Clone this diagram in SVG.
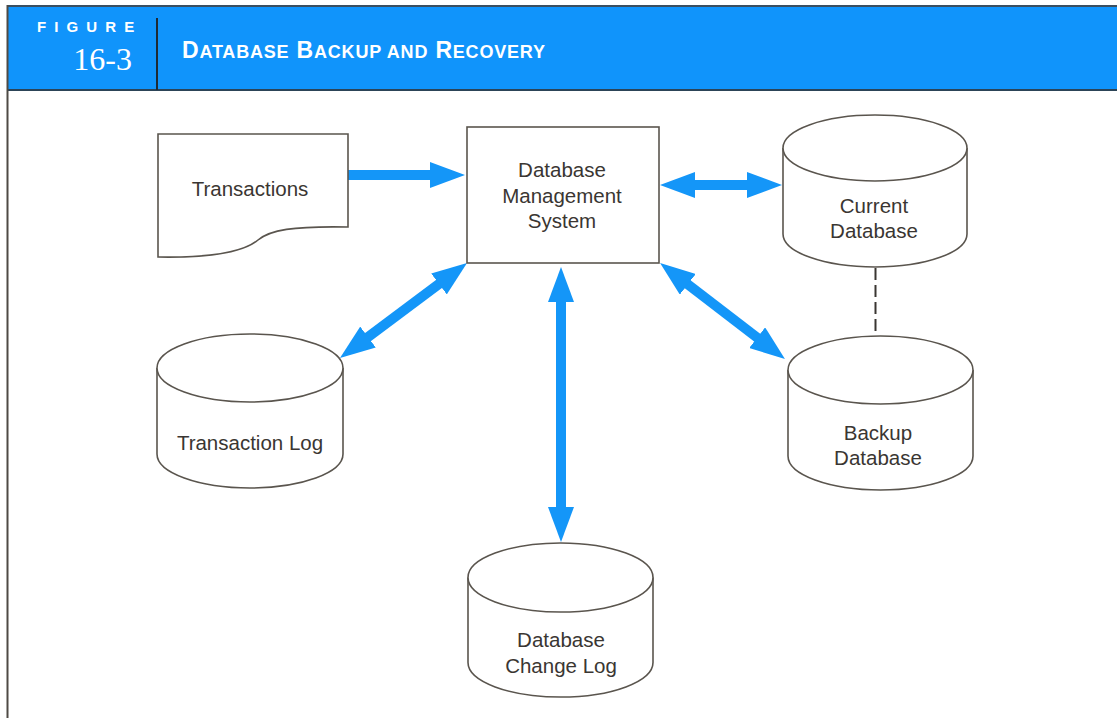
<svg xmlns="http://www.w3.org/2000/svg" width="1117" height="718" viewBox="0 0 1117 718">
  <style>
    .shape { fill: #ffffff; stroke: #5a554e; stroke-width: 1.6; }
    .label { font-family: "Liberation Sans", Arial, sans-serif; font-size: 20.5px; fill: #3a3632; text-anchor: middle; }
    .flow { stroke: #1496f8; stroke-width: 10; fill: none; }
    .hdr { fill: #ffffff; font-family: "Liberation Sans", Arial, sans-serif; font-weight: bold; }
  </style>
  <defs>
    <marker id="head" viewBox="0 0 35 26" refX="2" refY="13" markerWidth="35" markerHeight="26" markerUnits="userSpaceOnUse" orient="auto-start-reverse">
      <path d="M0,0 L35,13 L0,26 Z" fill="#1496f8"/>
    </marker>
  </defs>

  <rect x="0" y="0" width="1117" height="718" fill="#ffffff"/>

  <!-- title band -->
  <g id="header">
    <rect x="7" y="6" width="1110" height="84" fill="#1094fb"/>
    <line x1="7" y1="6" x2="1117" y2="6" stroke="#3a4f60" stroke-width="2"/>
    <line x1="7" y1="90" x2="1117" y2="90" stroke="#2c4457" stroke-width="2"/>
    <line x1="7.5" y1="5" x2="7.5" y2="718" stroke="#4e4a45" stroke-width="2"/>
    <line x1="157" y1="18" x2="157" y2="90" stroke="#1e2a33" stroke-width="2"/>
    <text class="hdr" x="37" y="32" font-size="15" letter-spacing="8.1">FIGURE</text>
    <text x="132" y="70" font-family="'Liberation Serif', 'Times New Roman', serif" font-size="32" fill="#ffffff" text-anchor="end">16-3</text>
    <text class="hdr" x="182" y="58" font-size="23" textLength="363" lengthAdjust="spacing">D<tspan font-size="18">ATABASE</tspan> B<tspan font-size="18">ACKUP AND</tspan> R<tspan font-size="18">ECOVERY</tspan></text>
  </g>

  <!-- connectors -->
  <g id="connectors">
    <line class="flow" x1="348" y1="175" x2="432" y2="175" marker-end="url(#head)"/>
    <line class="flow" x1="693" y1="185" x2="749" y2="185" marker-start="url(#head)" marker-end="url(#head)"/>
    <line class="flow" x1="561" y1="300" x2="561" y2="509" marker-start="url(#head)" marker-end="url(#head)"/>
    <line class="flow" x1="440.6" y1="282.8" x2="366.4" y2="338.2" marker-start="url(#head)" marker-end="url(#head)"/>
    <line class="flow" x1="686.2" y1="283.1" x2="758.8" y2="338.9" marker-start="url(#head)" marker-end="url(#head)"/>
    <line x1="875.5" y1="268" x2="875.5" y2="336" stroke="#3a3632" stroke-width="2" stroke-dasharray="12 5"/>
  </g>

  <g id="transactions">
    <path class="shape" d="M158,134 H348 V227 C292,226 270,230 258,240 C245,251 215,258 158,257 Z"/>
    <text class="label" x="250" y="196">Transactions</text>
  </g>

  <g id="dbms">
    <rect class="shape" x="467" y="127" width="192" height="136"/>
    <text class="label" x="562" y="177">Database</text>
    <text class="label" x="562" y="203">Management</text>
    <text class="label" x="562" y="228">System</text>
  </g>

  <g id="current-db">
    <path class="shape" d="M783,148 V234 A92,33 0 0 0 967,234 V148"/>
    <ellipse class="shape" cx="875" cy="148" rx="92" ry="33"/>
    <text class="label" x="874" y="213">Current</text>
    <text class="label" x="874" y="238">Database</text>
  </g>

  <g id="backup-db">
    <path class="shape" d="M788,370 V456 A92.5,34 0 0 0 973,456 V370"/>
    <ellipse class="shape" cx="880.5" cy="370" rx="92.5" ry="34"/>
    <text class="label" x="878" y="440">Backup</text>
    <text class="label" x="878" y="465">Database</text>
  </g>

  <g id="transaction-log">
    <path class="shape" d="M157,368 V454 A93,34 0 0 0 343,454 V368"/>
    <ellipse class="shape" cx="250" cy="368" rx="93" ry="34"/>
    <text class="label" x="250" y="450">Transaction Log</text>
  </g>

  <g id="change-log">
    <path class="shape" d="M468,577.5 V662.5 A92.5,34.5 0 0 0 653,662.5 V577.5"/>
    <ellipse class="shape" cx="560.5" cy="577.5" rx="92.5" ry="34.5"/>
    <text class="label" x="561" y="647">Database</text>
    <text class="label" x="561" y="673">Change Log</text>
  </g>
</svg>
